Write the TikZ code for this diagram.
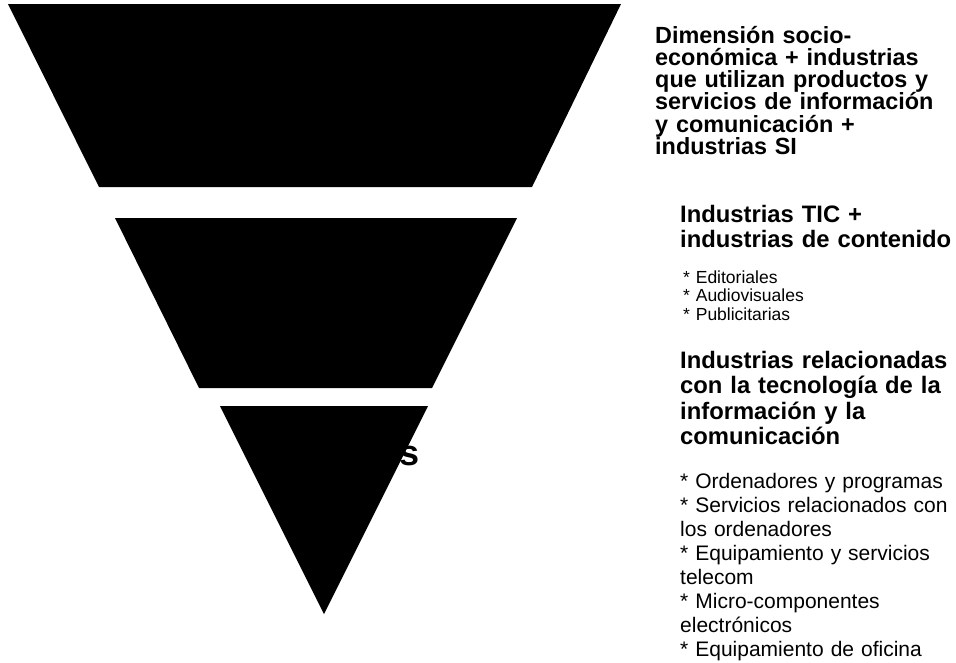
\documentclass[tikz,border=0pt]{standalone}
\usepackage{fontspec}
\setmainfont{Liberation Sans}
\usetikzlibrary{positioning}
\tikzstyle{level} = [fill=black, draw=none]
\tikzstyle{head} = [anchor=base west, inner sep=0pt, align=left,
text width=300pt, font=\bfseries\fontsize{23.8}{25.5}\selectfont]
\tikzstyle{items} = [anchor=base west, inner sep=0pt, align=left,
text width=300pt, font=\fontsize{21}{24}\selectfont]
\newcommand{\bul}{*\ }
\begin{document}
\begin{tikzpicture}[x=1pt,y=-1pt]
                \useasboundingbox (0,0) rectangle (956,662);
                % funnel levels
                \fill[level] (8,4) -- (621,4) -- (532,187) -- (99,187) -- cycle;
                \fill[level] (115,218) -- (517,218) -- (432,388) -- (199,388) -- cycle;
                \fill[level] (220,406) -- (428,406) -- (324,614) -- cycle;
                \node[anchor=base west, inner sep=0pt, font=\bfseries\fontsize{36}{36}\selectfont] (tail) at (399,465) {s};

                % labels
                \node[head, font=\bfseries\fontsize{23.4}{22.3}\selectfont] (h1) at (655,43) {Dimensión socio-\\económica + industrias\\que utilizan productos y\\servicios de información\\y comunicación +\\industrias SI};
                \node[head, font=\bfseries\fontsize{23.8}{25}\selectfont] (h2) at (680,222) {Industrias TIC +\\industrias de contenido};
                \node[items, font=\fontsize{17.5}{18.5}\selectfont] (l2) at (683,283) {\bul Editoriales\\\bul Audiovisuales\\\bul Publicitarias};
                \node[head] (h3) at (680,368) {Industrias relacionadas\\con la tecnología de la\\información y la\\comunicación};
                \node[items] (l3) at (680,488) {\bul Ordenadores y programas\\\bul Servicios relacionados con\\los ordenadores\\\bul Equipamiento y servicios\\telecom\\\bul Micro-componentes\\electrónicos\\\bul Equipamiento de oficina};
            \end{tikzpicture}
\end{document}
